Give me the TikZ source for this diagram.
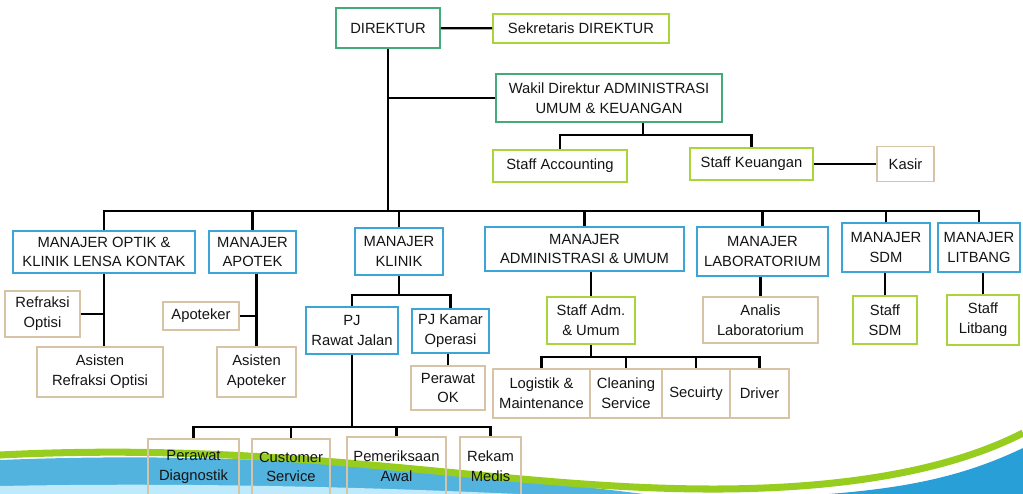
\documentclass[tikz,border=0pt]{standalone}
\usepackage{fontspec}
\setmainfont{Liberation Sans}
\usepackage{xcolor}
\usetikzlibrary{positioning,calc}
\definecolor{leadc}{RGB}{70,170,120}
\definecolor{mgrc}{RGB}{60,165,215}
\definecolor{stfc}{RGB}{170,212,60}
\definecolor{unitc}{RGB}{215,195,165}
\definecolor{wavg}{RGB}{150,205,30}
\definecolor{wavb}{RGB}{40,160,215}
\tikzset{
  box/.style={draw,line width=1.4pt,align=center,inner sep=1pt,text=black!92,
    font=\fontsize{10.5}{14}\selectfont},
  sz/.style 2 args={minimum width=#1*0.025cm,minimum height=#2*0.025cm},
  lead/.style={box,draw=leadc},
  mgr/.style={box,draw=mgrc},
  stf/.style={box,draw=stfc},
  unit/.style={box,draw=unitc},
  conn/.style={line width=1.6pt,black}
}
\begin{document}
\begin{tikzpicture}[x=0.025cm,y=-0.025cm]
\useasboundingbox (0,0) rectangle (1023,493);
% background waves
\fill[wavb!80] (0,460) .. controls (250,450) and (450,470) .. (660,496) -- (0,496) -- cycle;
\fill[cyan!25] (0,486) .. controls (200,482) and (400,488) .. (560,496) -- (0,496) -- cycle;
\fill[wavb] (1023,448) .. controls (960,478) and (900,490) .. (800,496) -- (1023,496) -- cycle;
\draw[wavg,line width=5pt] (0,455) .. controls (300,440) and (500,490) .. (720,489) .. controls (880,488) and (970,460) .. (1023,433);
% top
\node[lead,sz={104}{40}](dir)at(388,28){DIREKTUR};
\node[stf,sz={176}{29}](sek)at(581,28.5){Sekretaris DIREKTUR};
\node[lead,sz={226}{48}](wak)at(609,98){Wakil Direktur ADMINISTRASI\\UMUM \& KEUANGAN};
\node[stf,sz={134}{32}](acc)at(560,166){Staff Accounting};
\node[stf,sz={123}{32}](keu)at(751.5,164){Staff Keuangan};
\node[unit,sz={57}{35}](kas)at(905.5,164){Kasir};
% managers
\node[mgr,sz={182}{42}](mopt)at(104,252){MANAJER OPTIK \&\\KLINIK LENSA KONTAK};
\node[mgr,sz={87}{42}](mapt)at(252.5,252){MANAJER\\APOTEK};
\node[mgr,sz={88}{47}](mkli)at(399,251.5){MANAJER\\KLINIK};
\node[mgr,sz={199}{44}](madm)at(584.5,249){MANAJER\\ADMINISTRASI \& UMUM};
\node[mgr,sz={131}{49}](mlab)at(762.5,251.5){MANAJER\\LABORATORIUM};
\node[mgr,sz={88}{49}](msdm)at(886,247.5){MANAJER\\SDM};
\node[mgr,sz={82}{49}](mlit)at(979,247.5){MANAJER\\LITBANG};
% optik & apotek
\node[unit,sz={75}{46}](ref)at(42.5,314){Refraksi\\Optisi};
\node[unit,sz={126}{50}](aro)at(100,372){Asisten\\Refraksi Optisi};
\node[unit,sz={76}{28}](apo)at(201,316){Apoteker};
\node[unit,sz={79}{50}](aap)at(256.5,372){Asisten\\Apoteker};
% klinik
\node[mgr,sz={92}{47}](rwj)at(352,330.5){PJ\\Rawat Jalan};
\node[mgr,sz={77}{44}](kop)at(450.5,331){PJ Kamar\\Operasi};
\node[unit,sz={74}{44}](pok)at(448,388){Perawat\\OK};
\node[unit,sz={91}{56}](pdg)at(193.5,467){Perawat\\Diagnostik};
\node[unit,sz={78}{56}](cs)at(291,467){Customer\\Service};
\node[unit,sz={99}{58}](pma)at(396.5,466){Pemeriksaan\\Awal};
\node[unit,sz={61}{58}](rkm)at(490.5,466){Rekam\\Medis};
% administrasi
\node[stf,sz={88}{47}](sadm)at(591,320.5){Staff Adm.\\\& Umum};
\node[unit,sz={97}{49}](log)at(541.5,393.5){Logistik \&\\Maintenance};
\node[unit,sz={72}{49}](cln)at(626,393.5){Cleaning\\Service};
\node[unit,sz={68}{49}](sec)at(696,393.5){Secuirty};
\node[unit,sz={59}{49}](drv)at(759.5,393.5){Driver};
% lab, sdm, litbang
\node[unit,sz={115}{46}](anl)at(760.5,320){Analis\\Laboratorium};
\node[stf,sz={64}{48}](ssdm)at(885,320){Staff\\SDM};
\node[stf,sz={72}{50}](slit)at(983,320){Staff\\Litbang};
% connectors
\coordinate(bus)at(386,211);
\coordinate(wb)at(643,135);
\coordinate(kbus)at(399,295);
\coordinate(rbus)at(352,427);
\coordinate(abus)at(591,357);
\draw[conn](dir)--(sek);
\draw[conn](dir.south)--(dir.south|-bus);
\draw[conn](wak.west)--(wak.west-|dir.south);
\draw[conn](wb)--(wb|-wak.south);
\draw[conn](acc.north)|-(wb)-|(keu.north);
\draw[conn](keu)--(kas);
\draw[conn](mopt.north)|-(bus)-|(mlit.north);
\foreach \n in {mapt,mkli,madm,mlab,msdm}
  \draw[conn](\n.north)--(\n.north|-bus);
\draw[conn](mopt.south)--(mopt.south|-aro.north);
\draw[conn](ref.east)--(ref.east-|mopt.south);
\draw[conn](aap.north)--(aap.north|-mapt.south);
\draw[conn](apo.east)--(apo.east-|aap.north);
\draw[conn](mkli.south)--(kbus);
\draw[conn](rwj.north)|-(kbus)-|(kop.north);
\draw[conn](pok.north)--(pok.north|-kop.south);
\draw[conn](rwj.south)--(rbus);
\draw[conn](pdg.north)|-(rbus)-|(rkm.north);
\foreach \n in {cs,pma}
  \draw[conn](\n.north)--(\n.north|-rbus);
\draw[conn](sadm.north)--(sadm.north|-madm.south);
\draw[conn](sadm.south)--(abus);
\draw[conn](log.north)|-(abus)-|(drv.north);
\foreach \n in {cln,sec}
  \draw[conn](\n.north)--(\n.north|-abus);
\draw[conn](anl.north)--(anl.north|-mlab.south);
\draw[conn](ssdm.north)--(ssdm.north|-msdm.south);
\draw[conn](slit.north)--(slit.north|-mlit.south);
\end{tikzpicture}
\end{document}
